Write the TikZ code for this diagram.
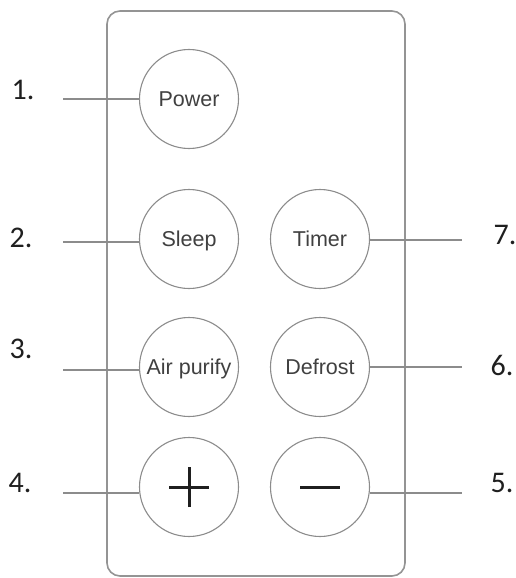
\documentclass[tikz,border=0pt]{standalone}
\usepackage{fontspec}
\setmainfont{Liberation Sans}
\newfontfamily\lblfont{Carlito}
\definecolor{linegray}{gray}{0.55}
\definecolor{boxgray}{gray}{0.58}
\definecolor{btntext}{gray}{0.25}
\definecolor{numcol}{gray}{0.12}
\begin{document}
\begin{tikzpicture}[x=1pt,y=-1pt,
  btn/.style={circle, draw=linegray, line width=1.1pt, minimum size=99pt, inner sep=0pt,
    font=\fontsize{21.5}{21.5}\selectfont, text=btntext, text height=15.4pt, text depth=0pt},
  lead/.style={draw=linegray, line width=1.3pt},
  num/.style={font=\lblfont\fontsize{30}{30}\selectfont, text=numcol, inner sep=0pt},
  sign/.style={draw=numcol, line width=3pt}]
\useasboundingbox (0,0) rectangle (515,578);
\draw[draw=boxgray, line width=1.6pt, rounded corners=13pt] (107,11) rectangle (405,576);

\node[btn] (power) at (189,99) {Power};
\node[btn] (sleep) at (189,239) {Sleep};
\node[btn] (timer) at (320,239) {Timer};
\node[btn] (air) at (189,367) {Air purify};
\node[btn] (defrost) at (320,367) {Defrost};
\node[btn] (plus) at (189,487) {};
\node[btn] (minus) at (320,487) {};

\draw[sign] ([xshift=-20pt]plus.center) -- ([xshift=20pt]plus.center);
\draw[sign] ([yshift=-20pt]plus.center) -- ([yshift=20pt]plus.center);
\draw[sign] ([xshift=-20pt]minus.center) -- ([xshift=20pt]minus.center);

\coordinate (l1) at (63,99);
\coordinate (l2) at (63,242);
\coordinate (l3) at (63,370);
\coordinate (l4) at (63,493);
\coordinate (r7) at (462,240);
\coordinate (r6) at (462,367);
\coordinate (r5) at (462,493);

\draw[lead] (l1) -- (l1 -| power.west);
\draw[lead] (l2) -- (l2 -| sleep.west);
\draw[lead] (l3) -- (l3 -| air.west);
\draw[lead] (l4) -- (l4 -| plus.west);
\draw[lead] (timer.east |- r7) -- (r7);
\draw[lead] (defrost.east |- r6) -- (r6);
\draw[lead] (minus.east |- r5) -- (r5);

\node[num] (n1) at (23,90) {1.};
\node[num] (n2) at (21,238) {2.};
\node[num] (n3) at (21,349) {3.};
\node[num] (n4) at (20,483) {4.};
\node[num] (n5) at (502,483) {5.};
\node[num] (n6) at (502,365) {6.};
\node[num] (n7) at (505,235) {7.};
\end{tikzpicture}
\end{document}
